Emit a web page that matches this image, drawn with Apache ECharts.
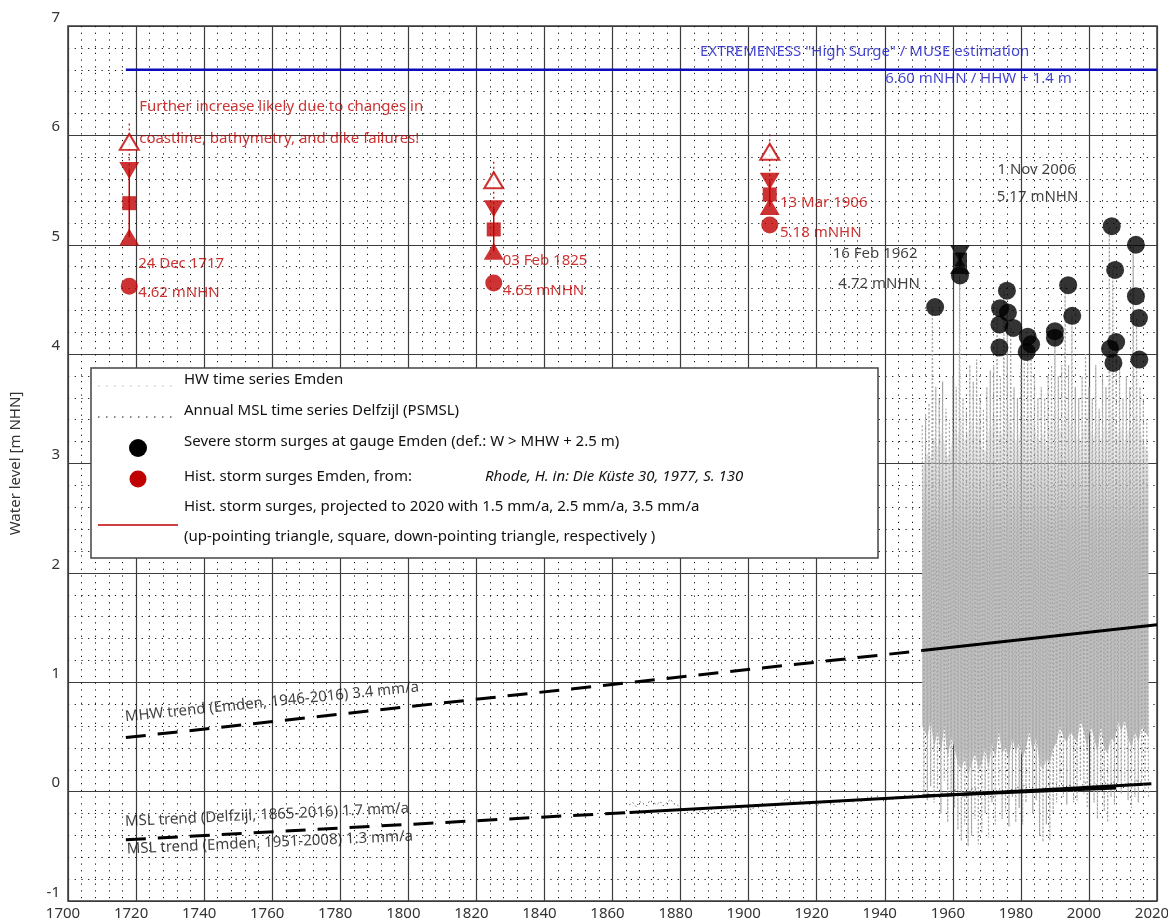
<!DOCTYPE html>
<html><head><meta charset="utf-8">
<script src="https://cdn.jsdelivr.net/npm/echarts@6/dist/echarts.min.js"></script>
<style>html,body{margin:0;padding:0;background:#fff}#c{width:1168px;height:920px}</style>
</head><body><div id="c"></div>
<script>
// ---------------- DATA ----------------
const xMin = 1700, xMax = 2020, xStep = 20;
const yMin = -1, yMax = 7, yStep = 1;

// Historic storm surges Emden (Rhode 1977)
const histYears  = [1718.0, 1825.1, 1906.2];
const histValues = [4.62, 4.65, 5.18];
const proj15 = [5.07, 4.94, 5.35];   // 1.5 mm/a to 2020 (up triangle)
const proj25 = [5.38, 5.14, 5.46];   // 2.5 mm/a (square)
const proj35 = [5.68, 5.33, 5.58];   // 3.5 mm/a (down triangle)
const projOpen = [5.94, 5.59, 5.85]; // open triangle
const projTop  = [6.13, 5.78, 6.03]; // top of dotted extension

// Severe storm surges at gauge Emden
const stormYears  = [1954.8, 1962.1, 1973.7, 1973.9, 1973.7, 1975.9, 1976.2, 1977.8, 1981.7, 1982.0, 1983.0, 1990.0, 1990.0, 1993.9, 1995.1, 2006.2, 2006.7, 2007.2, 2007.7, 2008.0, 2013.8, 2013.8, 2014.7, 2014.8];
const stormValues = [4.43, 4.72, 4.06, 4.42, 4.27, 4.58, 4.38, 4.24, 4.02, 4.16, 4.09, 4.15, 4.21, 4.63, 4.35, 4.05, 5.17, 3.92, 4.77, 4.11, 5.00, 4.53, 4.33, 3.95];
// 1962 storm projected (1.5 / 2.5 / 3.5 mm/a)
const storm1962Year = 1962.1;
const storm1962Proj = [4.81, 4.865, 4.92];

// HW time series Emden (yearly peak / trough and dense core band), 1951-2017
const hwStart = 1951;
const hwPeak = [3.35,3.45,3.55,4.43,3.70,3.60,3.75,3.50,3.40,3.80,
                3.70,4.72,3.60,3.50,3.90,3.75,3.95,3.60,3.50,3.70,
                3.85,3.90,4.42,3.80,4.58,4.38,4.24,3.70,3.60,3.90,
                4.02,4.16,4.09,3.80,3.60,3.70,3.60,3.80,3.90,4.21,
                3.80,3.90,4.63,3.90,4.35,3.70,3.60,3.80,4.00,3.70,
                3.60,3.90,3.50,3.80,3.70,5.17,4.77,4.11,3.90,3.60,
                3.80,3.70,5.00,4.33,3.70,3.60,3.40];
const hwTrough = [-0.02,-0.08,0.05,-0.10,0.02,-0.20,0.10,-0.28,-0.05,-0.15,
                  -0.35,-0.45,-0.30,-0.50,-0.40,-0.25,-0.48,-0.38,-0.20,-0.42,
                  -0.10,-0.30,0.05,-0.25,-0.18,-0.32,-0.05,-0.28,-0.15,-0.30,
                  -0.10,0.05,-0.20,-0.08,-0.40,-0.46,-0.30,-0.45,-0.20,-0.10,
                  0.08,-0.05,-0.12,0.02,-0.10,-0.08,0.10,-0.02,-0.15,0.05,
                  -0.10,-0.25,0.00,-0.18,-0.28,-0.05,-0.12,0.08,-0.02,0.10,
                  -0.08,-0.15,-0.05,-0.10,0.05,-0.02,-0.05];
const hwCoreLow = [0.60,0.50,0.65,0.40,0.55,0.35,0.60,0.30,0.50,0.40,
                   0.25,0.20,0.30,0.15,0.25,0.35,0.20,0.25,0.40,0.20,
                   0.45,0.30,0.55,0.35,0.40,0.30,0.50,0.35,0.45,0.30,
                   0.40,0.55,0.35,0.50,0.25,0.20,0.30,0.25,0.40,0.45,
                   0.60,0.50,0.45,0.55,0.50,0.45,0.65,0.55,0.40,0.60,
                   0.50,0.35,0.60,0.40,0.35,0.50,0.45,0.65,0.55,0.65,
                   0.50,0.40,0.55,0.45,0.60,0.55,0.50];
const hwCoreHigh = [2.95,3.10,3.05,3.25,3.15,3.30,3.20,3.05,3.15,3.35,
                    3.25,3.45,3.20,3.30,3.40,3.25,3.45,3.15,3.10,3.30,
                    3.35,3.45,3.30,3.25,3.50,3.40,3.30,3.20,3.25,3.45,
                    3.35,3.55,3.40,3.25,3.20,3.30,3.15,3.35,3.45,3.50,
                    3.30,3.40,3.55,3.35,3.45,3.25,3.20,3.35,3.50,3.30,
                    3.25,3.40,3.20,3.35,3.30,3.50,3.45,3.25,3.35,3.20,
                    3.30,3.35,3.45,3.40,3.25,3.15,3.10];

// Annual MSL Delfzijl (PSMSL), 1865-2016
const mslStart = 1865;
const mslValues = [-0.12,-0.10,-0.14,-0.09,-0.11,-0.13,-0.08,-0.10,-0.12,-0.09,
                   -0.13,-0.10,-0.07,-0.11,-0.12,-0.15,-0.17,-0.19,-0.16,-0.18,
                   -0.20,-0.17,-0.21,-0.18,-0.16,-0.19,-0.20,-0.17,-0.15,-0.18,
                   -0.16,-0.19,-0.14,-0.16,-0.13,-0.15,-0.17,-0.12,-0.15,-0.19,
                   -0.17,-0.20,-0.16,-0.14,-0.12,-0.10,-0.06,-0.09,-0.08,-0.11,
                   -0.09,-0.07,-0.10,-0.12,-0.09,-0.13,-0.11,-0.08,-0.10,-0.09,
                   -0.12,-0.08,-0.10,-0.07,-0.09,-0.08,-0.10,-0.06,-0.09,-0.07,
                   -0.05,-0.08,-0.06,-0.04,-0.07,-0.09,-0.06,-0.08,-0.05,-0.04,
                   -0.07,-0.03,-0.06,-0.02,-0.05,-0.03,-0.06,-0.04,-0.02,-0.05,
                   -0.03,-0.06,-0.01,-0.04,-0.02,0.00,0.02,-0.03,-0.05,-0.02,
                   0.01,0.03,0.02,-0.01,-0.04,-0.02,-0.05,-0.01,0.01,0.03,
                   0.00,-0.02,0.02,0.01,0.04,0.02,0.06,0.03,0.05,0.02,
                   0.00,0.01,0.03,0.06,0.07,0.08,0.05,0.06,0.04,0.06,
                   0.05,-0.01,0.03,0.06,0.08,0.07,0.05,0.07,0.04,0.06,
                   0.08,0.05,0.09,0.07,0.06,0.03,0.08,0.07,0.05,0.10,
                   0.09,0.08];

// Trend lines: [year, value] end points
const mhwTrendDashed = [[1717, 0.494], [1951, 1.29]];
const mhwTrendSolid  = [[1951, 1.29], [2020, 1.525]];
const mslDelfDashedEarly = [[1717, -0.44], [1865, -0.19]];
const mslDelfSolid       = [[1865, -0.19], [2016, 0.067]];
const mslDelfDashedLate  = [[2016, 0.067], [2020, 0.074]];
const mslEmdenSolid      = [[1951, -0.04], [2008, 0.034]];

// Extreme "High Surge" level
const extremeLevel = [[1717, 6.60], [2020, 6.60]];

// Text annotations [year, value, text]
const redNotes = [
  [1720.9, 6.259, 'Further increase likely due to changes in'],
  [1720.9, 5.967, 'coastline, bathymetry, and dike failures!'],
  [1720.6, 4.824, '24 Dec 1717'],
  [1720.6, 4.559, '4.62 mNHN'],
  [1827.7, 4.854, '03 Feb 1825'],
  [1827.7, 4.580, '4.65 mNHN'],
  [1909.2, 5.385, '13 Mar 1906'],
  [1909.2, 5.110, '5.18 mNHN']
];
const blackNotes = [
  [1924.7, 4.915, '16 Feb 1962'],
  [1926.35, 4.647, '4.72 mNHN'],
  [1973.1, 5.683, '1 Nov 2006'],
  [1972.9, 5.440, '5.17 mNHN']
];
const blueNotes = [
  [1885.7, 6.762, 'EXTREMENESS "High Surge" / MUSE estimation'],
  [1940.1, 6.515, '6.60 mNHN / HHW + 1.4 m']
];
const trendNotes = [
  [1716.75, 0.682, 'MHW trend (Emden, 1946-2016) 3.4 mm/a', 5.8],
  [1716.75, -0.275, 'MSL trend (Delfzijl, 1865-2016) 1.7 mm/a', 2.7],
  [1717.25, -0.527, 'MSL trend (Emden, 1951-2008) 1.3 mm/a', 2.6]
];

const legendLabels = [
  'HW time series Emden',
  'Annual MSL time series Delfzijl (PSMSL)',
  'Severe storm surges at gauge Emden (def.: W > MHW + 2.5 m)',
  'Hist. storm surges Emden, from:',
  'Hist. storm surges, projected to 2020 with 1.5 mm/a, 2.5 mm/a, 3.5 mm/a',
  '(up-pointing triangle, square, down-pointing triangle, respectively )'
];
const legendSource = 'Rhode, H. in: Die Küste 30, 1977, S. 130';
const yTitle = 'Water level [m NHN]';

// ---------------- CHART ----------------
const RED = '#c00000', BLUE = '#1515c8', FONT = '"Noto Sans", "Open Sans", sans-serif';
const chart = echarts.init(document.getElementById('c'), null, {renderer: 'canvas'});

const hwZigzag = [];
hwPeak.forEach((v, i) => { hwZigzag.push([hwStart + i, v]); hwZigzag.push([hwStart + i + 0.5, hwTrough[i]]); });
const mslData = mslValues.map((v, i) => [mslStart + i, v]);

function segSeries(data, color, width, dash, z) {
  return {
    type: 'custom', z: z, silent: true, clip: true,
    encode: {x: 0, y: [1, 2]},
    data: data,
    renderItem: function (params, api) {
      const p1 = api.coord([api.value(0), api.value(1)]);
      const p2 = api.coord([api.value(0), api.value(2)]);
      return {type: 'line', shape: {x1: p1[0], y1: p1[1], x2: p2[0], y2: p2[1]},
              style: {stroke: color, lineWidth: width, lineDash: dash}};
    }
  };
}
function lineSeries(data, color, width, dash, z) {
  return {type: 'line', data: data, symbol: 'none', silent: true, z: z,
          lineStyle: {color: color, width: width, type: dash}, animation: false};
}
function noteSeries(notes, color, extra) {
  return {
    type: 'scatter', silent: true, z: 20, symbolSize: 0.1,
    itemStyle: {color: 'transparent'},
    data: notes.map(n => ({name: n[2], value: [n[0], n[1]],
      label: n[3] !== undefined ? {rotate: n[3]} : {}})),
    label: Object.assign({show: true, position: 'right', distance: 0, formatter: '{b}',
      color: color, fontSize: 15, fontFamily: FONT, align: 'left', verticalAlign: 'middle'}, extra || {})
  };
}

const series = [
  // HW dense core band
  {
    type: 'custom', z: 1, silent: true, clip: true,
    encode: {x: 0, y: [1, 2]},
    data: hwCoreLow.map((v, i) => [hwStart + i + 0.5, v, hwCoreHigh[i]]),
    renderItem: function (params, api) {
      if (params.dataIndex !== 0) return null;
      const up = [], lo = [];
      for (let i = 0; i < hwCoreLow.length; i++) {
        const xi = i === 0 ? hwStart : hwStart + i + 0.5;
        up.push(api.coord([xi, hwCoreHigh[i]]));
        lo.push(api.coord([xi, hwCoreLow[i]]));
      }
      return {type: 'polygon', shape: {points: up.concat(lo.reverse())},
              style: {fill: {type: 'linear', x: 0, y: 0, x2: 0, y2: 1, colorStops: [
                {offset: 0, color: 'rgba(192,192,192,0.05)'},
                {offset: 0.12, color: 'rgba(192,192,192,0.35)'},
                {offset: 0.33, color: 'rgba(192,192,192,0.9)'},
                {offset: 0.45, color: 'rgba(192,192,192,1)'},
                {offset: 0.92, color: 'rgba(192,192,192,1)'},
                {offset: 1, color: 'rgba(192,192,192,0.7)'}]}}};
    }
  },
  lineSeries(hwZigzag, '#a6a6a6', 1.2, [2, 2], 2),
  lineSeries(mslData, '#111', 1, [1, 3], 3),
  lineSeries(mhwTrendDashed, '#000', 3, [20, 12], 4),
  lineSeries(mhwTrendSolid, '#000', 3, 'solid', 4),
  lineSeries(mslDelfDashedEarly, '#000', 3, [20, 12], 4),
  lineSeries(mslDelfSolid, '#000', 3, 'solid', 4),
  lineSeries(mslDelfDashedLate, '#000', 3, [8, 6], 4),
  lineSeries(mslEmdenSolid, '#000', 3, 'solid', 4),
  lineSeries(extremeLevel, '#0b0bb8', 2.5, 'solid', 5),
  // red projection connectors
  segSeries(histYears.map((x, i) => [x, proj35[i], projTop[i]]), RED, 1.2, [2, 3], 6),
  segSeries(histYears.map((x, i) => [x, proj15[i], proj35[i]]), RED, 1.5, null, 6),
  segSeries([[storm1962Year, storm1962Proj[0], storm1962Proj[2]]], '#000', 1.5, null, 6),
  // red markers
  {type: 'scatter', z: 8, silent: true, symbol: 'circle', symbolSize: 17,
   itemStyle: {color: RED}, data: histYears.map((x, i) => [x, histValues[i]])},
  {type: 'scatter', z: 8, silent: true, symbol: 'triangle', symbolSize: [20, 17],
   itemStyle: {color: RED}, data: histYears.map((x, i) => [x, proj15[i]])},
  {type: 'scatter', z: 8, silent: true, symbol: 'rect', symbolSize: [14, 14],
   itemStyle: {color: RED}, data: histYears.map((x, i) => [x, proj25[i]])},
  {type: 'scatter', z: 8, silent: true, symbol: 'triangle', symbolSize: [20, 17], symbolRotate: 180,
   itemStyle: {color: RED}, data: histYears.map((x, i) => [x, proj35[i]])},
  {type: 'scatter', z: 8, silent: true, symbol: 'triangle', symbolSize: [19, 16],
   itemStyle: {color: '#fff', borderColor: RED, borderWidth: 2}, data: histYears.map((x, i) => [x, projOpen[i]])},
  // black storm markers
  {type: 'scatter', z: 9, silent: true, symbol: 'triangle', symbolSize: [20, 17],
   itemStyle: {color: '#000'}, data: [[storm1962Year, storm1962Proj[0]]]},
  {type: 'scatter', z: 9, silent: true, symbol: 'rect', symbolSize: [14, 14],
   itemStyle: {color: '#000'}, data: [[storm1962Year, storm1962Proj[1]]]},
  {type: 'scatter', z: 9, silent: true, symbol: 'triangle', symbolSize: [20, 17], symbolRotate: 180,
   itemStyle: {color: '#000'}, data: [[storm1962Year, storm1962Proj[2]]]},
  {type: 'scatter', z: 10, silent: true, symbol: 'circle', symbolSize: 18,
   itemStyle: {color: '#000'}, data: stormYears.map((x, i) => [x, stormValues[i]])},
  noteSeries(redNotes, RED),
  noteSeries(blackNotes, '#111'),
  noteSeries(blueNotes, BLUE),
  noteSeries(trendNotes, '#111')
];

// Legend box (graphic)
const LX = 91, LY = 368, LW = 787, LH = 190;
const rowY = [380, 411, 442, 477, 507, 537];
const g = [
  {type: 'rect', z: 100, shape: {x: LX, y: LY, width: LW, height: LH},
   style: {fill: '#fff', stroke: '#444', lineWidth: 1.5}},
  {type: 'line', z: 101, shape: {x1: 98, y1: 386, x2: 174, y2: 386},
   style: {stroke: '#b4b4b4', lineWidth: 1.2, lineDash: [1.5, 6.5]}},
  {type: 'line', z: 101, shape: {x1: 98, y1: 417, x2: 174, y2: 417},
   style: {stroke: '#111', lineWidth: 1.2, lineDash: [1.5, 6.5]}},
  {type: 'circle', z: 101, shape: {cx: 138, cy: 448, r: 9}, style: {fill: '#000'}},
  {type: 'circle', z: 101, shape: {cx: 138, cy: 479, r: 8.5}, style: {fill: RED}},
  {type: 'line', z: 101, shape: {x1: 98, y1: 525, x2: 178, y2: 525},
   style: {stroke: RED, lineWidth: 1.3}},
  {type: 'text', z: 101, x: 485, y: 477,
   style: {text: legendSource, fill: '#111', font: 'italic 15px ' + FONT, verticalAlign: 'middle'}}
];
legendLabels.forEach((t, i) => g.push({type: 'text', z: 101, x: 184, y: rowY[i],
  style: {text: t, fill: '#111', font: '15px ' + FONT, verticalAlign: 'middle'}}));

chart.setOption({
  animation: false,
  backgroundColor: '#fff',
  grid: {left: 68, top: 26, width: 1089, height: 875, show: true, containLabel: false,
         outerBoundsMode: 'none',
         borderColor: '#3a3a3a', borderWidth: 1.5, backgroundColor: 'transparent'},
  xAxis: {
    type: 'value', min: xMin, max: xMax, interval: xStep,
    axisLine: {show: false}, axisTick: {show: false},
    axisLabel: {color: '#333', fontSize: 15, fontFamily: FONT, margin: 5,
                padding: [0, 10, 0, 0], formatter: v => String(v)},
    splitLine: {show: true, lineStyle: {color: '#3c3c3c', width: 1.2}},
    minorTick: {show: false, splitNumber: 5},
    minorSplitLine: {show: true, lineStyle: {color: '#111', width: 1, type: [1.2, 5.5]}}
  },
  yAxis: {
    type: 'value', min: yMin, max: yMax, interval: yStep,
    name: yTitle, nameLocation: 'middle', nameGap: 45, nameRotate: 90,
    nameTextStyle: {color: '#333', fontSize: 15, fontFamily: FONT},
    axisLine: {show: false}, axisTick: {show: false},
    axisLabel: {color: '#333', fontSize: 15, fontFamily: FONT, margin: 8,
                verticalAlign: 'bottom', padding: [0, 0, 1, 0], formatter: v => String(v)},
    splitLine: {show: true, lineStyle: {color: '#3c3c3c', width: 1.2}},
    minorTick: {show: false, splitNumber: 5},
    minorSplitLine: {show: true, lineStyle: {color: '#111', width: 1, type: [1.2, 5.5]}}
  },
  series: series,
  graphic: g
});
</script>
</body></html>
